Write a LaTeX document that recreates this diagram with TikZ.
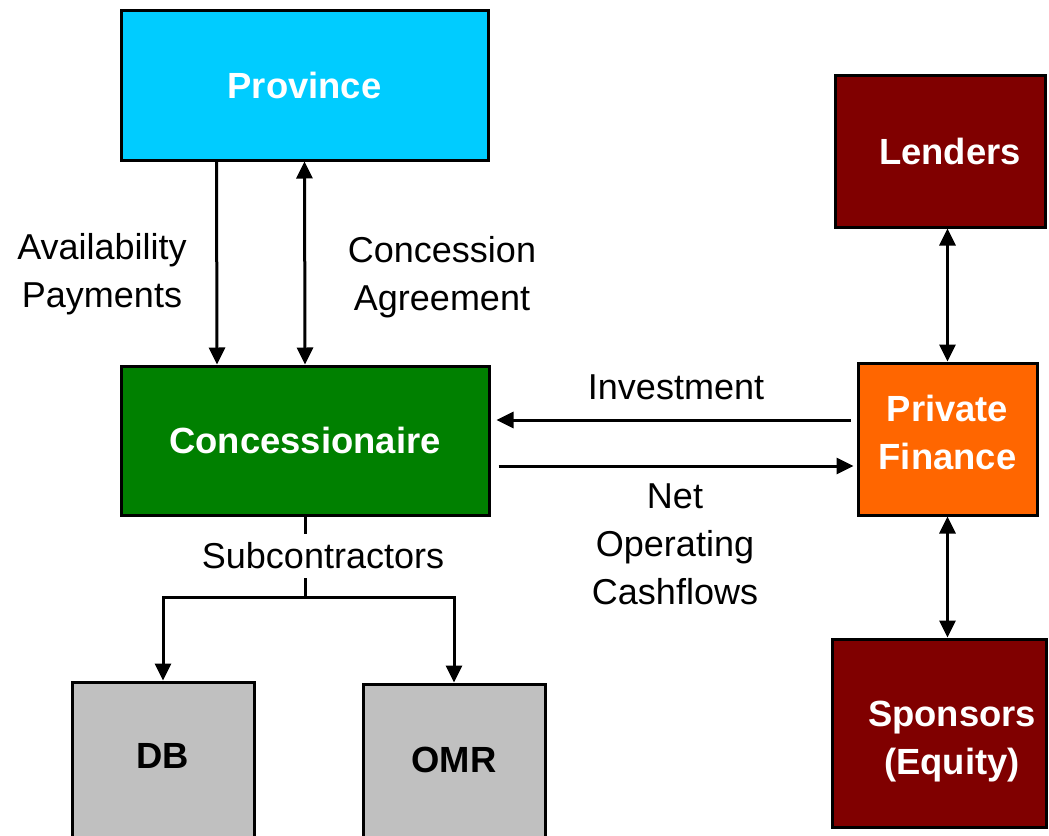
\documentclass[tikz,border=0pt]{standalone}
\usepackage{fontspec}
\setmainfont{Liberation Sans}
\usetikzlibrary{arrows.meta}
\definecolor{provcyan}{RGB}{0,204,255}
\definecolor{concgreen}{RGB}{0,128,0}
\definecolor{finmaroon}{RGB}{128,0,0}
\definecolor{finorange}{RGB}{255,102,0}
\definecolor{subgrey}{RGB}{192,192,192}
\tikzset{
  box/.style={
    draw=black,
    line width=1.5pt,
    inner sep=0pt,
    align=center,
    text=white,
    font=\fontsize{18.2}{24}\selectfont\bfseries
  },
  box-cyan/.style={box, fill=provcyan},
  box-green/.style={box, fill=concgreen},
  box-maroon/.style={box, fill=finmaroon},
  box-orange/.style={box, fill=finorange},
  box-grey/.style={box, fill=subgrey, text=black},
  link/.style={line width=1.5pt},
  arrow/.style={link, -{Triangle[length=8.5pt,width=8pt]}},
  arrow-both/.style={link, {Triangle[length=8.5pt,width=8pt]}-{Triangle[length=8.5pt,width=8pt]}},
  lbl/.style={align=center, font=\fontsize{18}{24}\selectfont}
}

\begin{document}
\begin{tikzpicture}[x=0.5pt, y=-0.5pt]
  \useasboundingbox (0,0) rectangle (1049,835);
  % Public side
  \node[box-cyan, minimum width=183.5pt, minimum height=75pt] (province) at (304.5,85) {Province};
  \node[box-green, minimum width=184pt, minimum height=74.5pt] (conc) at (305,440.5) {Concessionaire};
  % Finance side
  \node[box-maroon, minimum width=105pt, minimum height=76pt] (lenders) at (940,151) {\hspace*{10pt}Lenders};
  \node[box-orange, minimum width=89.5pt, minimum height=76pt, text depth=7pt] (pf) at (947.5,439) {Private\\Finance};
  \node[box-maroon, minimum width=107pt, minimum height=94pt] (sponsors) at (939,733) {\rule{0pt}{21.4pt}\hspace*{13pt}Sponsors\\\hspace*{13pt}(Equity)};
  % Subcontractors (bottom edge runs off the page)
  \node[box-grey, minimum width=91pt, minimum height=81.5pt, text depth=8pt] (db) at (163,763.5) {DB};
  \node[box-grey, minimum width=91pt, minimum height=80.5pt, text depth=4.5pt] (omr) at (454,764.5) {OMR};

  % Province <-> Concessionaire
  \draw[arrow] ([xshift=-44pt]province.south) -- ([xshift=-44pt]conc.north);
  \draw[arrow-both] (province.south) -- (conc.north);
  \node[lbl] (avail) at (102,274) {Availability\\Payments};
  \node[lbl] (agree) at (442,277) {Concession\\Agreement};

  % Concessionaire <-> Private Finance
  \coordinate (inv) at ([yshift=9.5pt]pf.west);
  \coordinate (cash) at ([yshift=-13.5pt]pf.west);
  \draw[arrow, shorten <=3pt, shorten >=3pt] (inv) -- (inv -| conc.east);
  \draw[arrow, shorten <=4pt, shorten >=1.5pt] (cash -| conc.east) -- (cash);
  \node[lbl] (invest) at (676,387) {Investment};
  \node[lbl] (netcash) at (675,544) {Net\\Operating\\Cashflows};

  % Private Finance <-> Lenders / Sponsors
  \draw[arrow-both] (pf.north) -- (pf.north |- lenders.south);
  \draw[arrow-both] (pf.south) -- (pf.south |- sponsors.north);

  % Subcontractors
  \coordinate (split) at (305,597);
  \draw[link] (conc.south) -- (split);
  \draw[arrow] (split) -| (db.north);
  \draw[arrow] (split) -| (omr.north);
  \node[lbl, fill=white, inner sep=0pt, minimum height=22pt] (subs) at (323,556) {Subcontractors};
\end{tikzpicture}
\end{document}
